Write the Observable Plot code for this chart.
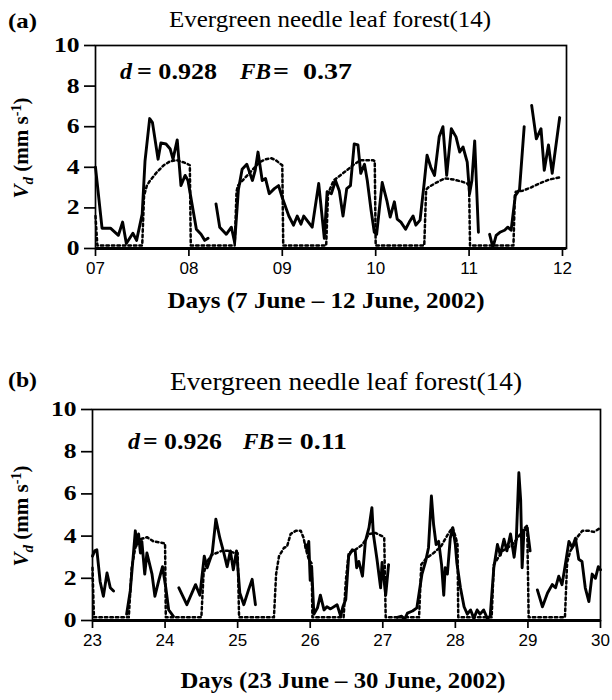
<!DOCTYPE html>
<html><head><meta charset="utf-8">
<script src="https://cdn.jsdelivr.net/npm/d3@7"></script>
<script src="https://cdn.jsdelivr.net/npm/@observablehq/plot@0.6"></script>
<style>
body{margin:0;background:#fff;}
#chart{width:612px;}
#chart svg{display:block;}
</style></head><body><div id="chart"></div>
<script>
// ---------- data ----------
const panelLabels = ["(a)", "(b)"];
const titles = ["Evergreen needle leaf forest(14)", "Evergreen needle leaf forest(14)"];
const xTitles = ["Days (7 June \u2013 12 June, 2002)", "Days (23 June \u2013 30 June, 2002)"];
const dValues = ["0.928", "0.926"];
const fbValues = [" 0.37", "0.11"];
const yTicks = [0, 2, 4, 6, 8, 10];
const xTicksA = [7, 8, 9, 10, 11, 12];
const xTickLabelsA = ["07", "08", "09", "10", "11", "12"];
const xTicksB = [23, 24, 25, 26, 27, 28, 29, 30];
const xTickLabelsB = ["23", "24", "25", "26", "27", "28", "29", "30"];

// observed Vd (solid), [day, mm/s]; null = gap
const obsA = [
  [7.00,4.0],[7.07,1.0],[7.16,1.0],[7.245,0.65],[7.29,1.3],[7.33,0.25],[7.40,0.75],[7.44,0.4],
  [7.50,1.7],[7.53,4.3],[7.58,6.4],[7.61,6.2],[7.67,4.4],[7.70,5.2],[7.755,5.15],[7.80,4.9],
  [7.83,4.4],[7.875,5.35],[7.915,3.1],[7.96,3.6],[7.99,3.35],[8.08,0.95],[8.13,0.7],[8.17,0.4],[8.205,0.5],
  null,
  [8.29,2.2],[8.33,1.05],[8.40,0.7],[8.455,1.05],[8.49,0.3],[8.53,2.9],[8.57,3.9],[8.62,4.15],
  [8.65,3.75],[8.68,3.35],[8.71,3.85],[8.74,4.75],[8.785,3.35],[8.82,3.45],[8.86,2.7],[8.915,2.95],
  [8.96,3.1],[9.00,2.5],[9.07,1.6],[9.12,1.15],[9.16,1.6],[9.20,1.2],[9.23,1.6],[9.32,1.05],
  [9.39,3.2],[9.45,0.5],[9.48,2.8],[9.525,2.7],[9.57,3.35],[9.61,2.85],[9.65,1.6],[9.69,2.95],
  [9.73,3.1],[9.77,5.15],[9.81,5.1],[9.84,3.7],[9.88,4.15],[9.91,3.35],[9.95,1.9],[9.985,0.8],
  [10.01,0.7],[10.07,3.25],[10.12,2.35],[10.155,1.55],[10.20,2.3],[10.23,1.45],[10.27,1.3],[10.32,0.95],
  [10.36,1.3],[10.40,1.6],[10.43,1.15],[10.475,1.4],[10.52,3.25],[10.55,4.6],[10.59,4.0],[10.63,3.6],
  [10.68,5.5],[10.72,6.0],[10.76,3.6],[10.81,5.9],[10.86,5.5],[10.90,4.75],[10.935,5.0],[10.98,4.25],
  [11.005,2.7],[11.03,3.35],[11.06,5.3],[11.10,0.8],
  null,
  [11.22,0.7],[11.255,0.05],[11.29,0.65],[11.33,0.8],[11.38,0.9],[11.415,1.05],[11.45,0.9],
  [11.495,2.6],[11.54,2.9],[11.59,6.0],
  null,
  [11.67,7.05],[11.72,5.4],[11.77,5.9],[11.805,3.85],[11.85,5.1],[11.89,3.7],[11.97,6.45]
];
// modelled Vd (dotted)
const modA = [
  [7.00,1.6],[7.02,0.15],[7.50,0.15],[7.52,2.6],[7.55,3.1],[7.585,3.35],[7.655,3.75],[7.73,4.1],
  [7.80,4.3],[7.87,4.35],[7.94,4.25],[7.99,4.15],[8.01,4.1],[8.02,0.15],[8.49,0.15],[8.51,2.8],
  [8.525,3.1],[8.595,3.45],[8.685,3.9],[8.755,4.25],[8.825,4.4],[8.88,4.45],[8.93,4.35],[8.985,4.15],
  [9.00,4.1],[9.01,0.15],[9.47,0.15],[9.49,2.7],[9.55,3.35],[9.62,3.6],[9.69,3.85],[9.77,4.15],
  [9.84,4.35],[9.91,4.35],[9.97,4.35],[9.99,4.3],[10.00,0.15],[10.52,0.15],[10.54,2.9],[10.56,3.0],
  [10.65,3.25],[10.74,3.45],[10.83,3.4],[10.92,3.3],[10.98,3.2],[11.00,3.1],[11.01,0.15],[11.475,0.15],
  [11.49,2.6],[11.50,2.8],[11.575,2.85],[11.66,3.0],[11.75,3.2],[11.86,3.4],[11.97,3.5]
];
const obsB = [
  [23.00,3.05],[23.03,3.3],[23.06,3.35],[23.105,1.85],[23.15,1.15],[23.20,2.25],[23.245,1.55],[23.29,1.4],
  null,
  [23.47,0.3],[23.52,1.4],[23.565,3.2],[23.59,4.25],[23.61,3.6],[23.635,4.1],[23.66,3.2],[23.68,3.75],
  [23.72,2.2],[23.75,3.2],[23.82,2.2],[23.86,1.15],[23.91,1.85],[23.965,2.55],[24.01,1.55],[24.05,0.5],[24.115,0.2],
  null,
  [24.19,1.55],[24.30,0.75],[24.42,1.7],[24.48,1.2],[24.54,3.05],[24.58,2.5],[24.65,3.2],[24.70,4.8],
  [24.755,3.9],[24.81,3.2],[24.855,2.55],[24.90,3.3],[24.94,2.4],[24.985,3.3],[25.03,1.3],[25.085,0.75],
  [25.15,1.45],[25.20,1.95],[25.245,0.75],
  null,
  [25.935,3.6],[25.96,3.3],[25.98,3.75],[26.00,1.9],[26.02,2.55],[26.05,0.3],[26.10,0.6],[26.14,1.2],
  [26.19,0.5],[26.23,0.65],[26.28,0.55],[26.37,0.75],[26.42,0.2],[26.45,0.65],[26.49,1.0],[26.53,3.05],
  [26.58,3.35],[26.62,3.3],[26.64,2.5],[26.67,2.8],[26.72,2.1],[26.76,3.75],[26.81,4.4],[26.85,5.35],
  [26.87,4.1],[26.92,2.9],[26.97,1.55],[26.99,2.75],[27.04,1.2],[27.08,2.65],
  null,
  [27.20,0.15],[27.26,0.2],[27.30,0.05],[27.34,0.35],[27.41,0.45],[27.47,0.6],[27.54,2.2],[27.59,2.8],
  [27.63,3.45],[27.67,5.9],[27.70,4.55],[27.735,3.6],[27.77,3.75],[27.81,2.65],[27.84,1.2],[27.86,2.5],
  [27.89,2.2],[27.93,3.9],[27.965,4.4],[28.00,3.6],[28.02,2.75],[28.07,1.55],[28.12,0.65],[28.165,0.3],
  [28.21,0.5],[28.255,0.1],[28.30,0.5],[28.34,0.3],[28.39,0.5],[28.44,0.1],[28.48,0.2],[28.53,2.5],
  [28.58,3.6],[28.62,3.1],[28.67,3.85],[28.71,3.3],[28.76,4.1],[28.81,3.0],[28.84,3.85],[28.875,7.0],
  [28.90,5.7],[28.92,2.5],[28.945,4.25],[28.99,4.4],[29.03,3.3],
  null,
  [29.13,1.45],[29.20,0.65],[29.27,1.3],[29.335,1.7],[29.38,1.55],[29.425,2.1],[29.47,1.7],[29.52,2.75],
  [29.565,3.75],[29.61,3.45],[29.655,3.9],[29.70,2.9],[29.745,2.8],[29.79,1.55],[29.84,0.9],[29.885,2.2],
  [29.93,2.0],[29.97,2.55],[30.00,2.4]
];
const modB = [
  [23.00,2.5],[23.02,0.15],[23.50,0.15],[23.54,2.5],[23.59,3.45],[23.66,3.85],[23.75,3.95],[23.84,3.75],
  [23.93,3.7],[24.00,3.65],[24.01,0.15],[24.50,0.15],[24.53,2.2],[24.58,2.8],[24.64,3.1],[24.71,3.2],
  [24.78,3.3],[24.87,3.3],[24.96,3.2],[25.00,3.2],[25.02,0.15],[25.50,0.15],[25.53,2.2],[25.57,3.05],
  [25.64,3.45],[25.68,3.5],[25.73,4.1],[25.80,4.25],[25.87,4.25],[25.91,3.9],[25.935,3.45],[25.98,2.9],
  [26.02,2.7],[26.03,0.15],[26.46,0.15],[26.49,1.85],[26.53,3.2],[26.62,3.35],[26.72,3.6],[26.81,4.1],
  [26.90,4.15],[26.99,4.0],[27.02,3.9],[27.04,0.15],[27.50,0.15],[27.53,2.65],[27.60,2.95],[27.70,3.2],
  [27.80,3.5],[27.90,4.1],[27.96,4.4],[28.00,4.0],[28.03,3.6],[28.04,0.15],[28.50,0.15],[28.53,2.65],
  [28.65,3.3],[28.79,3.6],[28.875,4.0],[28.945,4.35],[28.99,4.5],[29.01,0.15],[29.51,0.15],[29.54,2.75],
  [29.585,3.3],[29.63,3.55],[29.68,3.95],[29.75,4.25],[29.84,4.25],[29.91,4.2],[29.98,4.35],[30.00,4.35]
];

// ---------- drawing ----------
const SERIF = "'Liberation Serif', 'Times New Roman', serif";
const SANS = "'Liberation Sans', Arial, sans-serif";
const rows = arr => arr.map(p => p ? {day: p[0], v: p[1]} : {day: NaN, v: NaN});

function stretch(sel, k) {
  sel.each(function () {
    const w = this.getComputedTextLength();
    this.setAttribute("textLength", (w * k).toFixed(1));
    this.setAttribute("lengthAdjust", "spacingAndGlyphs");
  });
}
function addText(g, o) {
  const t = g.append("text")
    .attr("x", o.x).attr("y", o.y)
    .attr("font-family", SERIF)
    .attr("font-size", o.size)
    .attr("font-weight", o.weight || "normal")
    .attr("font-style", o.italic ? "italic" : "normal")
    .attr("text-anchor", o.anchor || "start")
    .attr("fill", "#000")
    .text(o.text);
  if (o.len) t.attr("textLength", o.len).attr("lengthAdjust", "spacingAndGlyphs");
  return t;
}

function panel(cfg) {
  const svg = Plot.plot({
    width: 612, height: cfg.height,
    marginTop: cfg.mt, marginRight: cfg.mr, marginBottom: cfg.mb, marginLeft: cfg.ml,
    style: {background: "#fff", color: "#000", fontFamily: SERIF, fontSize: "18px", overflow: "visible"},
    x: {domain: cfg.xDomain, label: null},
    y: {domain: [0, 10], label: null},
    marks: [
      Plot.frame({stroke: "#000", strokeWidth: 1.7}),
      Plot.line(rows(cfg.mod), {x: "day", y: "v", stroke: "#000", strokeWidth: 2.5, strokeDasharray: "2.5 3"}),
      Plot.line(rows(cfg.obs), {x: "day", y: "v", stroke: "#000", strokeWidth: 2.9}),
      Plot.ruleY([0], {stroke: "#000", strokeWidth: 3}),
      Plot.axisX({ticks: cfg.xTicks, tickFormat: d => cfg.xLabels[cfg.xTicks.indexOf(d)],
        tickSize: 8, tickPadding: 5, strokeWidth: 1.7, fontFamily: SANS, fontSize: 17, label: null}),
      Plot.axisY({ticks: yTicks, tickSize: 11, tickPadding: 5, strokeWidth: 1.7,
        fontWeight: "bold", fontSize: 20, label: null})
    ]
  });
  document.getElementById("chart").appendChild(svg);
  const s = d3.select(svg);
  stretch(s.selectAll('g[aria-label="y-axis tick label"] text'), 1.28);
  const g = s.append("g");
  addText(g, {x: 8, y: cfg.labelY, text: cfg.label, size: 21, weight: "bold", len: 29});
  addText(g, {x: cfg.titleX, y: cfg.titleY, text: cfg.title, size: cfg.titleSize, anchor: "middle", len: cfg.titleLen});
  addText(g, {x: cfg.xtX, y: cfg.xtY, text: cfg.xTitle, size: 24, weight: "bold", anchor: "middle", len: cfg.xtLen});
  // statistics
  const st = cfg.stats;
  addText(g, {x: st[0], y: st[5], text: "d", size: 24, weight: "bold", italic: true});
  addText(g, {x: st[1], y: st[5], text: "= " + cfg.d, size: 24, weight: "bold", len: st[2] - st[1]});
  addText(g, {x: st[3], y: st[5], text: "FB", size: 24, weight: "bold", italic: true, len: 31});
  addText(g, {x: st[4], y: st[5], text: "= " + cfg.fb, size: 24, weight: "bold", len: st[6] - st[4]});
  // y-axis label
  const yl = g.append("text")
    .attr("transform", `translate(${cfg.ylX},${cfg.ylY}) rotate(-90)`)
    .attr("text-anchor", "middle").attr("font-family", SERIF).attr("font-size", 21)
    .attr("font-weight", "bold").attr("fill", "#000");
  yl.append("tspan").attr("font-style", "italic").text("V");
  yl.append("tspan").attr("font-style", "italic").attr("font-size", 15).attr("dy", 5).text("d");
  yl.append("tspan").attr("dy", -5).text(" (mm s");
  yl.append("tspan").attr("font-size", 14).attr("dy", -7).text("-1");
  yl.append("tspan").attr("dy", 7).text(")");
}

panel({
  height: 340, mt: 45, mb: 92, ml: 95, mr: 46, xDomain: [7, 12.043],
  xTicks: xTicksA, xLabels: xTickLabelsA, obs: obsA, mod: modA,
  label: panelLabels[0], labelY: 28, title: titles[0], titleX: 330, titleY: 27, titleSize: 24, titleLen: 322,
  xTitle: xTitles[0], xtX: 326, xtY: 308, xtLen: 317,
  d: dValues[0], fb: fbValues[0], stats: [120, 137, 217, 240, 273, 79, 352],
  ylX: 28, ylY: 148
});
panel({
  height: 360, mt: 69, mb: 80, ml: 92, mr: 12, xDomain: [23, 30],
  xTicks: xTicksB, xLabels: xTickLabelsB, obs: obsB, mod: modB,
  label: panelLabels[1], labelY: 47, title: titles[1], titleX: 346, titleY: 50, titleSize: 25, titleLen: 352,
  xTitle: xTitles[1], xtX: 343, xtY: 348, xtLen: 325,
  d: dValues[1], fb: fbValues[1], stats: [128, 143, 222, 243, 277, 109, 347],
  ylX: 28, ylY: 176
});
</script>
</body></html>
